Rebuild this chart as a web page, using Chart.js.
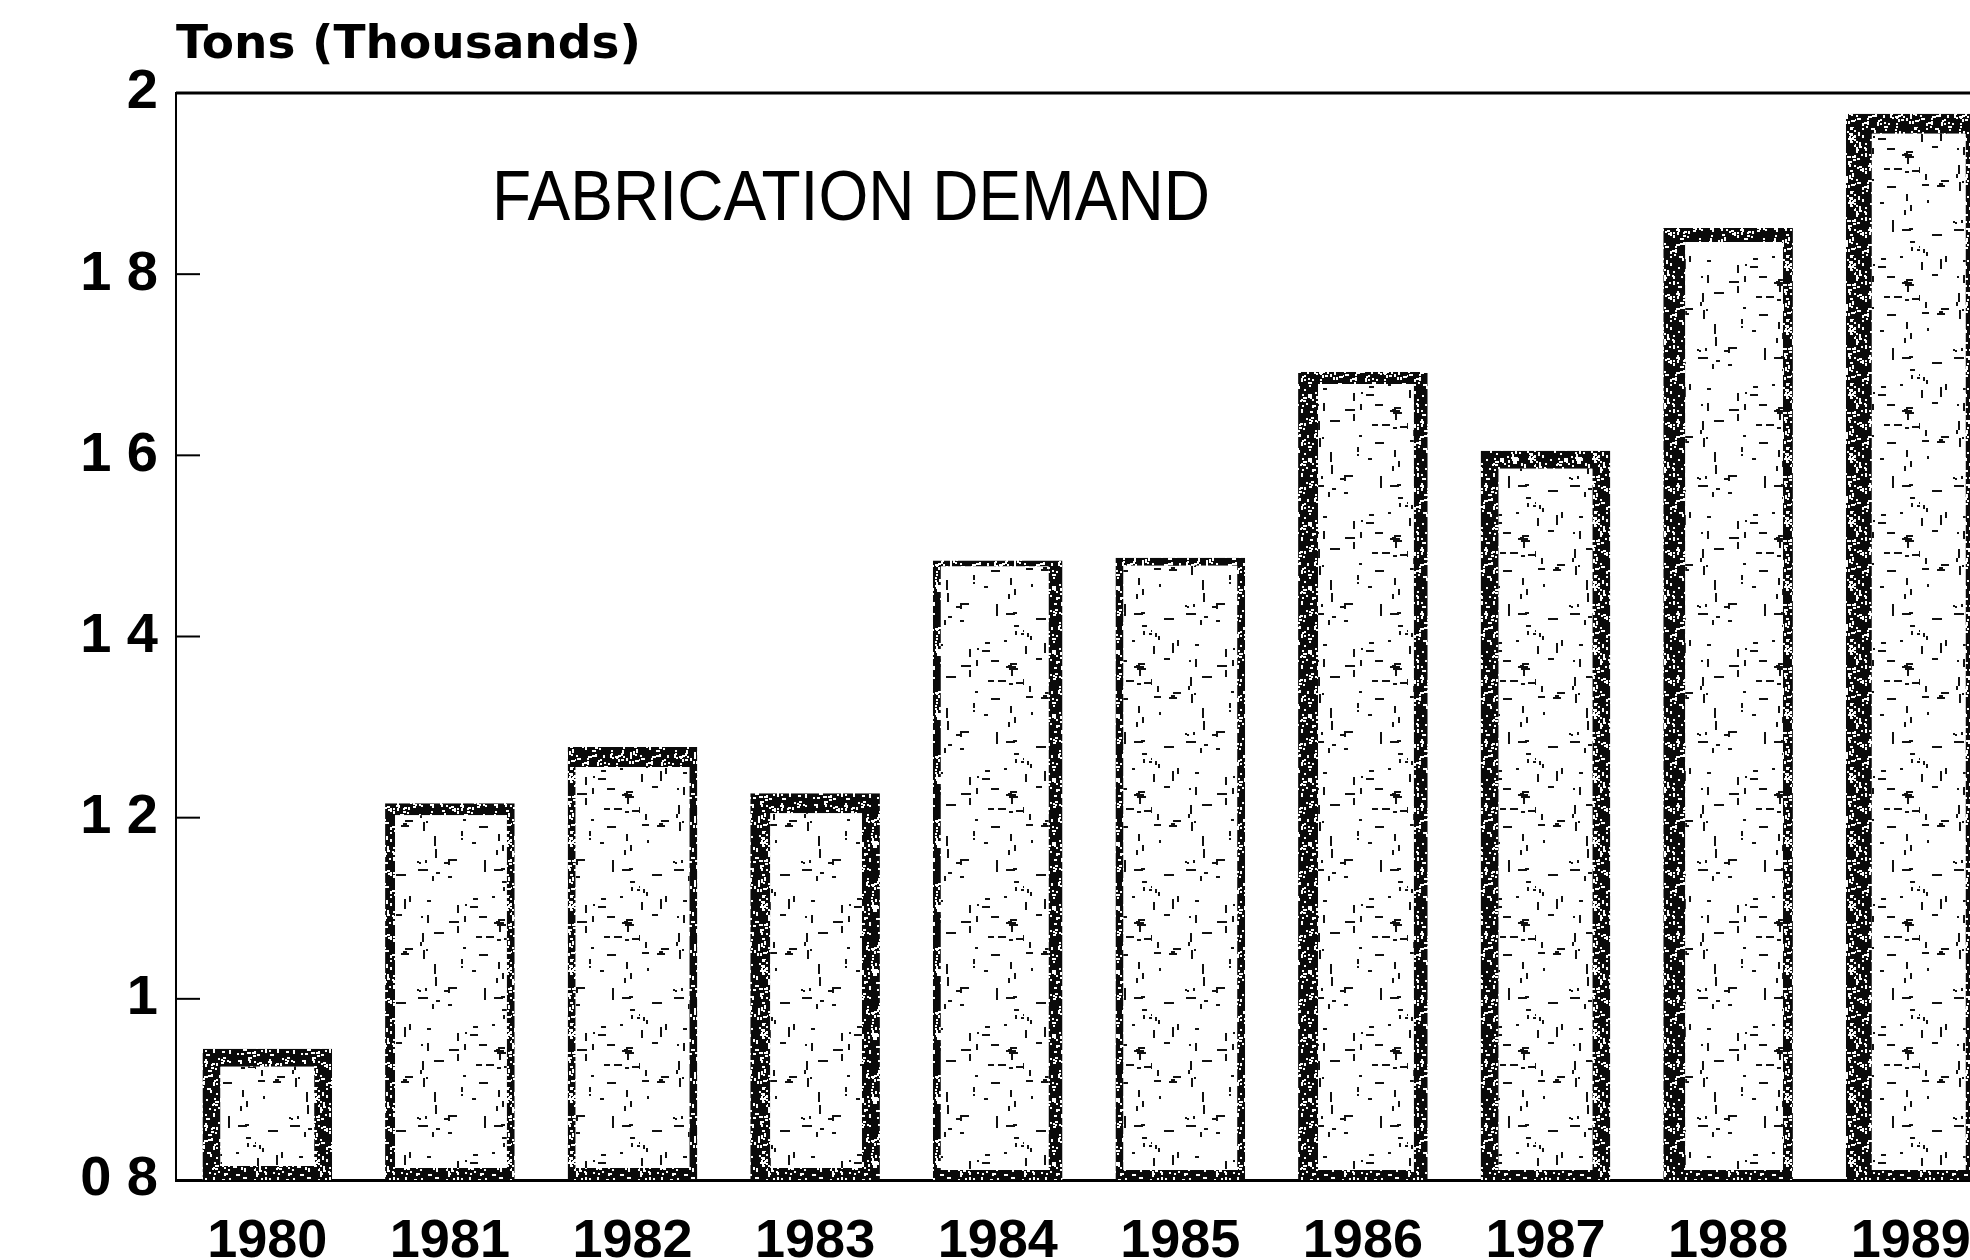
<!DOCTYPE html>
<html>
<head>
<meta charset="utf-8">
<script src="https://cdn.jsdelivr.net/npm/chart.js@4.4.1/dist/chart.umd.min.js"></script>
<style>
  html, body { margin: 0; padding: 0; background: #fff; overflow: hidden; }
  #wrap { width: 2010px; height: 1260px; }
</style>
</head>
<body>
<div id="wrap"><canvas id="demandChart" width="2010" height="1260"></canvas></div>
<script>
// Fabrication demand, tons (thousands)
var years = ["1980", "1981", "1982", "1983", "1984", "1985", "1986", "1987", "1988", "1989"];
var demand = [0.945, 1.216, 1.278, 1.227, 1.484, 1.487, 1.692, 1.605, 1.851, 1.977];
var yTickLabels = ["0 8", "1", "1 2", "1 4", "1 6", "1 8", "2"];
var yMin = 0.8, yMax = 2;

// the copier left some bars with heavier outlines than others
var edgeWidths = [
    { left: 18, right: 18, top: 18, bottom: 14 },
    { left: 10, right: 8, top: 12, bottom: 12 },
    { left: 8, right: 8, top: 20, bottom: 12 },
    { left: 20, right: 18, top: 20, bottom: 12 },
    { left: 8, right: 14, top: 6, bottom: 10 },
    { left: 8, right: 8, top: 8, bottom: 10 },
    { left: 20, right: 14, top: 12, bottom: 10 },
    { left: 18, right: 18, top: 18, bottom: 10 },
    { left: 22, right: 10, top: 14, bottom: 10 },
    { left: 26, right: 10, top: 20, bottom: 10 }
];

// speckled textures for the bars (photocopy look)
function speckle(size, base, ink, count, seed, maxLen) {
    var c = document.createElement('canvas');
    c.width = size; c.height = size;
    var g = c.getContext('2d');
    g.fillStyle = base;
    g.fillRect(0, 0, size, size);
    g.fillStyle = ink;
    var s = seed;
    function rnd() { s = (s * 16807) % 2147483647; return s / 2147483647; }
    for (var i = 0; i < count; i++) {
        var x = Math.floor(rnd() * size), y = Math.floor(rnd() * size);
        var len = 2 + Math.floor(rnd() * maxLen);
        if (rnd() < 0.5) g.fillRect(x, y, len, 2);
        else g.fillRect(x, y, 2, len);
    }
    return g.createPattern(c, 'repeat');
}

var ctx = document.getElementById('demandChart').getContext('2d');
var fillPattern = speckle(128, '#ffffff', '#111111', 70, 12345, 9);
var edgePattern = speckle(64, '#0a0a0a', '#ffffff', 170, 777, 3);

var decorations = {
    id: 'decorations',
    afterDraw: function(chart) {
        var c = chart.ctx, a = chart.chartArea, y = chart.scales.y;
        c.save();
        // frame line across the top
        c.strokeStyle = '#000';
        c.lineWidth = 3;
        c.beginPath();
        c.moveTo(a.left, a.top);
        c.lineTo(a.right, a.top);
        c.stroke();
        // short inward ticks on the value axis
        c.lineWidth = 2;
        y.ticks.forEach(function(t) {
            var py = y.getPixelForValue(t.value);
            c.beginPath();
            c.moveTo(a.left, py);
            c.lineTo(a.left + 24, py);
            c.stroke();
        });
        c.fillStyle = '#000';
        c.textBaseline = 'top';
        c.textAlign = 'left';
        c.font = 'bold 47px "DejaVu Sans"';
        c.fillText('Tons (Thousands)', a.left, 22);
        c.font = '70px "Liberation Sans"';
        c.fillText('FABRICATION DEMAND', 492, 166, 718);
        c.restore();
    }
};

var demandChart = new Chart(ctx, {
    type: 'bar',
    data: {
        labels: years,
        datasets: [{
            data: demand,
            base: yMin,
            backgroundColor: fillPattern,
            borderColor: edgePattern,
            borderWidth: edgeWidths,
            borderSkipped: false,
            categoryPercentage: 1,
            barPercentage: 0.71
        }]
    },
    options: {
        responsive: false,
        animation: false,
        layout: { padding: { top: 93, right: 8, left: 0, bottom: 0 } },
        plugins: {
            legend: { display: false },
            tooltip: { enabled: false }
        },
        scales: {
            x: {
                grid: { display: false, drawTicks: false },
                border: { display: true, color: '#000', width: 3 },
                ticks: {
                    color: '#000',
                    padding: 30,
                    font: { family: 'Liberation Sans', weight: 'bold', size: 54 }
                },
                afterFit: function(scale) { scale.height = 80; }
            },
            y: {
                min: yMin,
                max: yMax,
                beginAtZero: false,
                grid: { display: false, drawTicks: false },
                border: { display: true, color: '#000', width: 2 },
                ticks: {
                    stepSize: 0.2,
                    color: '#000',
                    padding: 18,
                    font: { family: 'Liberation Sans', weight: 'bold', size: 56 },
                    callback: function(value, index) { return yTickLabels[index]; }
                },
                afterFit: function(scale) { scale.width = 176; }
            }
        }
    },
    plugins: [decorations]
});
</script>
</body>
</html>
